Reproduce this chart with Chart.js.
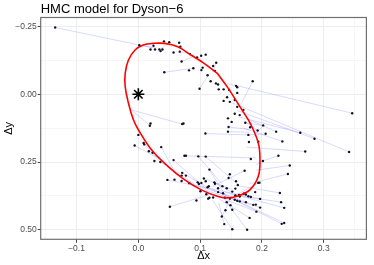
<!DOCTYPE html>
<html>
<head>
<meta charset="utf-8">
<script src="https://cdn.jsdelivr.net/npm/chart.js@4"></script>
<style>
html,body{margin:0;padding:0;background:#fff;}
#wrap{width:374px;height:265px;}
</style>
</head>
<body>
<div id="wrap"><canvas id="c" width="374" height="265"></canvas></div>
<script>
// ---- data ----
const dotsX = [-0.1346,0.0016,0.0197,0.0245,0.027,0.034,0.036,0.039,0.0415,0.050,0.057,0.066,0.068,0.067,0.070,0.0835,0.095,0.1016,0.109,
 0.042,0.082,0.089,0.104,0.102,0.112,0.121,0.126,0.124,0.1255,0.129,0.130,0.138,0.099,0.117,0.158,0.160,0.185,0.147,0.160,
 0.138,0.1436,0.148,0.156,0.160,0.170,0.156,0.164,0.145,0.151,0.173,0.181,0.146,0.145,0.178,0.193,0.202,0.206,0.223,0.233,
 0.262,0.285,0.346,0.341,0.270,0.194,0.179,0.1085,0.073,0.071,0.0197,0.0186,0.000,-0.006,0.0085,0.0096,0.017,0.023,0.037,
 0.0356,0.026,0.057,0.0745,0.077,0.097,0.109,0.182,0.2016,0.2266,0.245,0.242,0.172,0.194,0.196,0.148,0.146,0.115,0.071,
 0.047,0.0585,0.070,0.077,0.070,0.0825,0.096,0.098,0.102,0.106,0.109,0.112,0.123,0.124,0.129,0.136,0.143,0.158,0.161,
 0.157,0.152,0.157,0.163,0.171,0.174,0.178,0.182,0.189,0.1005,0.110,0.113,0.115,0.121,0.129,0.137,0.140,0.143,0.148,
 0.156,0.160,0.164,0.164,0.174,0.186,0.190,0.197,0.197,0.191,0.229,0.231,0.236,0.232,0.236,0.149,0.152,0.141,0.135,
 0.139,0.152,0.176,0.180,0.051,0.094,0.114];
const dotsY = [-0.246,-0.181,-0.165,-0.179,-0.165,-0.165,-0.159,-0.165,-0.195,-0.192,-0.154,-0.190,-0.175,-0.157,-0.121,-0.148,-0.136,-0.142,-0.146,
 -0.081,-0.088,-0.096,-0.098,-0.089,-0.070,-0.104,-0.116,-0.086,-0.040,-0.036,-0.018,-0.018,-0.020,-0.048,-0.031,-0.026,-0.048,-0.016,-0.005,
 0.0245,0.011,0.028,0.021,0.0466,0.0576,0.072,0.077,0.089,0.102,0.105,0.122,0.121,0.138,0.150,0.134,0.115,0.146,0.138,0.174,
 0.142,0.164,0.070,0.213,0.211,0.175,0.176,0.145,0.108,0.110,0.108,0.116,0.150,0.189,0.180,0.185,0.210,0.216,0.195,
 0.250,0.246,0.243,0.227,0.227,0.229,0.230,0.239,0.246,0.227,0.263,0.294,0.282,0.327,0.326,0.295,0.309,0.278,0.290,
 0.316,0.315,0.300,0.300,0.320,0.328,0.325,0.331,0.327,0.311,0.321,0.343,0.325,0.330,0.347,0.339,0.347,0.321,0.335,
 0.348,0.359,0.373,0.371,0.366,0.370,0.376,0.379,0.361,0.358,0.369,0.385,0.382,0.381,0.361,0.365,0.382,0.398,0.385,
 0.389,0.393,0.377,0.395,0.398,0.408,0.407,0.386,0.418,0.433,0.364,0.398,0.419,0.478,0.475,0.409,0.426,0.428,0.451,
 0.479,0.498,0.500,0.456,0.415,0.392,0.339];

// residual segments: start (observed) -> end (model)
const segStartX = [-0.1346,0.346,0.341,0.285,0.262,0.270,0.185,0.233,0.223,0.206,0.202,0.193,0.042,0.071,0.0186,0.1085,0.0745,0.097,0.109,-0.006,
 0.0085,0.037,0.051,0.232,0.236,0.236,0.231,0.229,0.245,0.242,0.2266,0.2016,0.152,0.176,0.139,0.180,0.191,0.197,0.186,0.197,
 0.172,0.115,0.071,0.047,0.135,0.194,0.099,0.0016,0.070,0.050,0.067,0.126,0.146,0.145,0.173,0.0356,0.057,0.123,0.106,0.0825];
const segStartY = [-0.246,0.070,0.213,0.164,0.142,0.211,-0.048,0.174,0.138,0.146,0.115,0.134,-0.081,0.110,0.116,0.145,0.227,0.229,0.230,0.189,
 0.180,0.195,0.415,0.478,0.475,0.419,0.398,0.364,0.263,0.294,0.227,0.246,0.498,0.500,0.479,0.456,0.433,0.418,0.408,0.386,
 0.282,0.278,0.290,0.316,0.451,0.327,-0.020,-0.181,-0.121,-0.192,-0.157,-0.116,0.121,0.138,0.105,0.250,0.243,0.325,0.311,0.328];
const segEndX = [0.022,0.144,0.150,0.160,0.165,0.175,0.167,0.170,0.175,0.178,0.185,0.172,0.089,-0.011,-0.011,0.180,0.190,0.135,0.160,0.040,
 0.035,0.060,0.115,0.130,0.120,0.140,0.150,0.155,0.190,0.180,0.195,0.190,0.120,0.140,0.130,0.130,0.120,0.110,0.130,0.100,
 0.120,0.140,0.125,0.100,0.150,0.160,0.115,0.030,0.090,0.035,0.080,0.120,0.180,0.180,0.200,0.090,0.110,0.150,0.150,0.140];
const segEndY = [-0.172,-0.040,0.030,0.060,0.085,0.195,0.033,0.125,0.090,0.150,0.160,0.100,-0.096,0.058,0.058,0.150,0.235,0.330,0.330,0.245,
 0.250,0.290,0.370,0.360,0.350,0.360,0.370,0.335,0.280,0.330,0.250,0.260,0.390,0.390,0.400,0.385,0.370,0.355,0.360,0.340,
 0.340,0.370,0.360,0.340,0.380,0.370,-0.077,-0.170,-0.140,-0.165,-0.150,-0.080,0.130,0.140,0.115,0.330,0.350,0.360,0.350,0.370];

// fitted orbit ellipse (traced)
const ellipseX = [0.1277,0.1436,0.1676,0.1809,0.1941,0.1968,0.1941,0.1809,0.1596,0.1436,0.1277,0.1011,0.0745,0.0479,0.0213,0.000,-0.008,-0.016,-0.0213,-0.0213,-0.016,-0.0053,0.008,0.0239,0.0426,0.0638,0.0851,0.1064,0.1277];
const ellipseY = [-0.0772,-0.0282,0.0576,0.1066,0.1801,0.2414,0.3027,0.3517,0.3762,0.3824,0.3762,0.3517,0.3149,0.2659,0.2047,0.1311,0.0944,0.0331,-0.0282,-0.0772,-0.1262,-0.1630,-0.1814,-0.1875,-0.1875,-0.1752,-0.1446,-0.1140,-0.0772];

const starX = [0.0];
const starY = [0.0];

const xMajorTicks = [-0.1,0.0,0.1,0.2,0.3];
const xTickLabels = ['\u22120.1','0.0','0.1','0.2','0.3'];
const xMinorTicks = [-0.15,-0.05,0.05,0.15,0.25,0.35];
const yMajorTicks = [-0.25,0.0,0.25,0.5];
const yTickLabels = ['\u22120.25','0.00','0.25','0.50'];
const yMinorTicks = [-0.125,0.125,0.375];

// ---- build chart ----
const dots = dotsX.map((x,i)=>({x:x,y:dotsY[i]}));
const segs = [];
segStartX.forEach((x,i)=>{
  segs.push({x:x,y:segStartY[i]});
  segs.push({x:segEndX[i],y:segEndY[i]});
  segs.push({x:null,y:null});
});
const ell = ellipseX.map((x,i)=>({x:x,y:ellipseY[i]}));
const star = starX.map((x,i)=>({x:x,y:starY[i]}));

function isMajor(list,v){return list.some(m=>Math.abs(m-v)<1e-9);}

const FONT = '"Liberation Sans", Arial, Helvetica, sans-serif';

const borderPlugin = {
  id:'panelBorder',
  afterDraw(chart){
    const a = chart.chartArea, ctx = chart.ctx;
    ctx.save();
    ctx.strokeStyle = '#707070';
    ctx.lineWidth = 1.2;
    ctx.strokeRect(a.left, a.top, a.right-a.left, a.bottom-a.top);
    ctx.restore();
  }
};

new Chart(document.getElementById('c'), {
  type:'scatter',
  data:{datasets:[
    {label:'star', data:star, pointStyle:'star', pointRadius:6, pointBorderWidth:1.6,
     borderColor:'#000', backgroundColor:'#000', order:1},
    {label:'orbit', data:ell, showLine:true, tension:0.4, borderColor:'#ff0000', borderWidth:1.6,
     pointRadius:0, fill:false, order:2},
    {label:'obs', data:dots, pointRadius:1.2, pointBorderWidth:0, backgroundColor:'#111122',
     borderColor:'#111122', order:3},
    {label:'resid', data:segs, showLine:true, spanGaps:false, borderColor:'rgba(90,90,255,0.33)',
     borderWidth:0.7, pointRadius:0, order:4}
  ]},
  options:{
    responsive:false, animation:false, devicePixelRatio:1,
    layout:{padding:{left:0,right:2,top:0,bottom:0}},
    plugins:{
      legend:{display:false}, tooltip:{enabled:false},
      title:{display:true, text:'HMC model for Dyson\u22126', align:'start', fullSize:false,
        color:'#000', font:{family:FONT, size:13, weight:'normal', lineHeight:1},
        padding:{top:2.5, bottom:2}}
    },
    scales:{
      x:{type:'linear', min:-0.158, max:0.369,
        afterBuildTicks(s){ s.ticks = xMajorTicks.concat(xMinorTicks).sort((a,b)=>a-b).map(v=>({value:v})); },
        afterFit(s){ s.height = 25.7; },
        ticks:{autoSkip:false, maxRotation:0, padding:1, color:'#4d4d4d', font:{family:FONT,size:8.5},
          callback(v){ const i = xMajorTicks.findIndex(m=>Math.abs(m-v)<1e-9); return i>=0 ? xTickLabels[i] : ''; }},
        grid:{color:'#ebebeb', drawTicks:true, tickLength:3.5,
          lineWidth(ctx){ return ctx.tick && isMajor(xMajorTicks,ctx.tick.value) ? 0.9 : 0.45; },
          tickColor(ctx){ return ctx.tick && isMajor(xMajorTicks,ctx.tick.value) ? '#333' : 'rgba(0,0,0,0)'; }},
        border:{display:false},
        title:{display:true, text:'\u0394x', color:'#000', font:{family:FONT,size:11}, padding:{top:0,bottom:2}}
      },
      y:{type:'linear', reverse:true, min:-0.283, max:0.535,
        afterBuildTicks(s){ s.ticks = yMajorTicks.concat(yMinorTicks).sort((a,b)=>a-b).map(v=>({value:v})); },
        afterFit(s){ s.width = 40.7; },
        ticks:{autoSkip:false, padding:1, color:'#4d4d4d', font:{family:FONT,size:8.5},
          callback(v){ const i = yMajorTicks.findIndex(m=>Math.abs(m-v)<1e-9); return i>=0 ? yTickLabels[i] : ''; }},
        grid:{color:'#ebebeb', drawTicks:true, tickLength:3,
          lineWidth(ctx){ return ctx.tick && isMajor(yMajorTicks,ctx.tick.value) ? 0.9 : 0.45; },
          tickColor(ctx){ return ctx.tick && isMajor(yMajorTicks,ctx.tick.value) ? '#333' : 'rgba(0,0,0,0)'; }},
        border:{display:false},
        title:{display:true, text:'\u0394y', color:'#000', font:{family:FONT,size:11}, padding:{top:2,bottom:0}}
      }
    }
  },
  plugins:[borderPlugin]
});
</script>
</body>
</html>
